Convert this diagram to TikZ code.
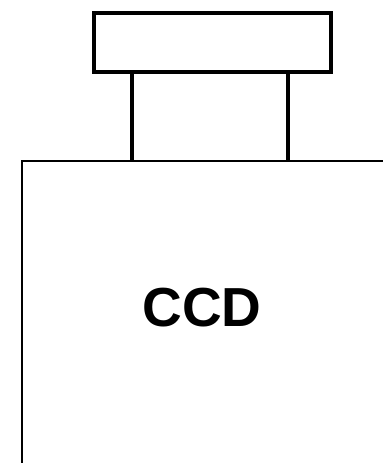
\documentclass[tikz,border=0pt]{standalone}
\usepackage{fontspec}
\setmainfont{Liberation Sans}
\begin{document}
\begin{tikzpicture}[x=1pt,y=-1pt,
  thick line/.style={draw=black,line width=3.8pt},
  body line/.style={draw=black,line width=2.8pt}]
\useasboundingbox (0,0) rectangle (383,463);
\fill[white] (0,0) rectangle (383,463);
% cap
\node[thick line,minimum width=237pt,minimum height=59pt,inner sep=0pt,anchor=north west] (cap) at (92,11) {};
% neck
\coordinate (nl) at (132,161);
\coordinate (nr) at (288,161);
\draw[thick line] (cap.south west -| nl) -- (nl);
\draw[thick line] (cap.south west -| nr) -- (nr);
% body
\coordinate (bl) at (22,463);
\coordinate (tl) at (22,161);
\coordinate (tr) at (383,161);
\draw[body line] (bl) -- (tl) -- (tr);
\node[font=\bfseries\fontsize{55}{60}\selectfont,inner sep=0pt] (ccd) at (202,308) {CCD};
\end{tikzpicture}
\end{document}
